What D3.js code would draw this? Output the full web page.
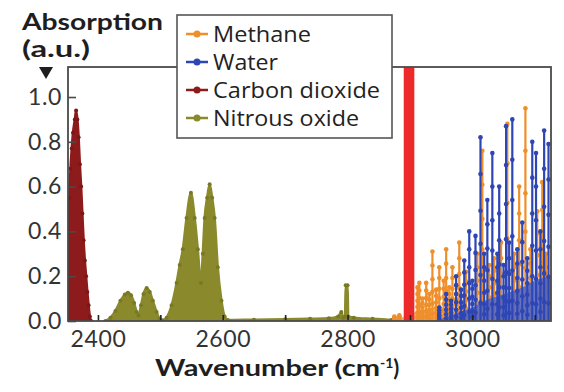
<!DOCTYPE html>
<html><head><meta charset="utf-8">
<script src="https://cdn.jsdelivr.net/npm/d3@7"></script>
<style>html,body{margin:0;padding:0;background:#fff;}svg{display:block;}</style>
</head><body>
<svg id="c" width="564" height="392"></svg>
<script>
// ---- data ----
const seriesNames = ["Methane", "Water", "Carbon dioxide", "Nitrous oxide"];
const seriesColors = ["#ef8f2a", "#2e45b4", "#8e1b1b", "#8a8a2c"];
const yTicks = [0.0, 0.2, 0.4, 0.6, 0.8, 1.0];
const xTicksLabeled = [2400, 2600, 2800, 3000];
const xTicksMinor = [2400, 2500, 2600, 2700, 2800, 2900, 3000, 3100];

const co2Wn = [2352, 2354, 2356, 2358, 2360, 2363, 2365, 2367, 2369, 2371, 2373, 2375, 2377, 2379, 2381, 2383, 2385, 2387, 2389];
const co2Abs = [0.40, 0.55, 0.68, 0.77, 0.84, 0.90, 0.94, 0.90, 0.82, 0.70, 0.60, 0.48, 0.36, 0.27, 0.20, 0.13, 0.07, 0.02, 0.0];

const n2oWn = [2412, 2420, 2428, 2436, 2443, 2448, 2453, 2458, 2462, 2465, 2469, 2473, 2478, 2483, 2488, 2494, 2499, 2504, 2510, 2518, 2526, 2531, 2536, 2542, 2549, 2555, 2560, 2565, 2568, 2571, 2575, 2579, 2583, 2587, 2592, 2598, 2603, 2608, 2650, 2700, 2740, 2770, 2785, 2790, 2793, 2796, 2797, 2800, 2801, 2810, 2840, 2870];
const n2oAbs = [0, 0.015, 0.045, 0.09, 0.118, 0.126, 0.115, 0.08, 0.04, 0.025, 0.07, 0.12, 0.147, 0.13, 0.09, 0.04, 0.01, 0.003, 0.015, 0.07, 0.17, 0.25, 0.32, 0.46, 0.573, 0.46, 0.32, 0.17, 0.30, 0.46, 0.55, 0.61, 0.55, 0.46, 0.24, 0.09, 0.02, 0.004, 0.006, 0.008, 0.01, 0.012, 0.02, 0.04, 0.015, 0.02, 0.16, 0.16, 0.02, 0.015, 0.01, 0.005];

const ch4Wn = [2875, 2883, 2912, 2915, 2920, 2926, 2931, 2936, 2942, 2947, 2954, 2958, 2963, 2968, 2974, 2979, 2990, 3008, 3016, 3027, 3035, 3046, 3056, 3067, 3075, 3085, 3093, 3104, 3112, 3118];
const ch4Abs = [0.02, 0.025, 0.15, 0.17, 0.10, 0.17, 0.12, 0.31, 0.14, 0.24, 0.18, 0.32, 0.15, 0.24, 0.12, 0.35, 0.22, 0.30, 0.76, 0.25, 0.28, 0.35, 0.88, 0.30, 0.60, 0.95, 0.32, 0.49, 0.62, 0.30];
const ch4BaseWn = [2860, 2880, 2900, 2920, 2940, 2960, 2980, 3000, 3020];
const ch4BaseAbs = [0.0, 0.01, 0.03, 0.05, 0.06, 0.06, 0.05, 0.04, 0.02];

const h2oWn = [2947, 2958, 2966, 2974, 2982, 2987, 2995, 3000, 3005, 3013, 3019, 3024, 3032, 3040, 3043, 3050, 3054, 3059, 3064, 3072, 3080, 3088, 3096, 3102, 3109, 3115, 3122];
const h2oAbs = [0.06, 0.12, 0.09, 0.20, 0.14, 0.27, 0.40, 0.18, 0.38, 0.82, 0.30, 0.54, 0.75, 0.30, 0.60, 0.25, 0.87, 0.35, 0.90, 0.32, 0.44, 0.28, 0.80, 0.75, 0.40, 0.85, 0.79];
const h2oBaseWn = [2940, 2960, 2980, 3000, 3020, 3040, 3060, 3080, 3100, 3126];
const h2oBaseAbs = [0.0, 0.02, 0.04, 0.06, 0.09, 0.11, 0.13, 0.15, 0.18, 0.20];

const laserBand = [2890, 2907];

// ---- chart ----
const svg = d3.select("#c");
const x = d3.scaleLinear().domain([2352, 3126]).range([68, 551]);
const y = d3.scaleLinear().domain([0, 1.134]).range([321, 67]);

const plot = svg.append("g");
svg.append("clipPath").attr("id", "pc").append("rect")
  .attr("x", x.range()[0]).attr("y", y.range()[1])
  .attr("width", x.range()[1] - x.range()[0]).attr("height", y.range()[0] - y.range()[1]);
plot.attr("clip-path", "url(#pc)");

function zipPts(w, a) { return w.map((d, i) => [d, a[i]]); }
const area = d3.area().x(d => x(d[0])).y0(y(0)).y1(d => y(d[1])).curve(d3.curveMonotoneX);
const line = d3.line().x(d => x(d[0])).y(d => y(d[1])).curve(d3.curveMonotoneX);

function filledSpectrum(pts, color) {
  plot.append("path").datum(pts).attr("d", area).attr("fill", color);
  plot.append("path").datum(pts).attr("d", line).attr("fill", "none").attr("stroke", color).attr("stroke-width", 2.5);
  plot.selectAll(null).data(pts).enter().append("circle")
    .attr("cx", d => x(d[0])).attr("cy", d => y(d[1])).attr("r", 2)
    .attr("fill", d3.color(color).darker(0.4));
}

filledSpectrum(zipPts(n2oWn, n2oAbs), seriesColors[3]);
filledSpectrum(zipPts(co2Wn, co2Abs), seriesColors[2]);

plot.append("path").datum(zipPts(ch4BaseWn, ch4BaseAbs)).attr("d", area)
  .attr("fill", seriesColors[0]).attr("opacity", 0.7);

function sticks(w, a, color) {
  const pts = zipPts(w, a);
  const g = plot.append("g");
  g.selectAll("line").data(pts).enter().append("line")
    .attr("x1", d => x(d[0])).attr("x2", d => x(d[0]))
    .attr("y1", y(0)).attr("y2", d => y(d[1]))
    .attr("stroke", color).attr("stroke-width", 2.2);
  const fr = [1, 0.8, 0.6, 0.42, 0.25, 0.1];
  pts.forEach(p => {
    g.selectAll(null).data(fr).enter().append("circle")
      .attr("cx", x(p[0])).attr("cy", f => y(p[1] * f)).attr("r", 2.3)
      .attr("fill", color);
  });
}
sticks(ch4Wn, ch4Abs, seriesColors[0]);

plot.append("path").datum(zipPts(h2oBaseWn, h2oBaseAbs)).attr("d", area)
  .attr("fill", "#4a63c8").attr("opacity", 0.85);
sticks(h2oWn, h2oAbs, seriesColors[1]);

plot.append("rect").attr("x", x(laserBand[0])).attr("width", x(laserBand[1]) - x(laserBand[0]))
  .attr("y", y.range()[1]).attr("height", y.range()[0] - y.range()[1]).attr("fill", "#ec2a2c");

// Axes
const axisColor = "#4a4a4a";
const yAx = svg.append("g").attr("transform", `translate(${x.range()[0]},0)`)
  .call(d3.axisLeft(y).tickValues(yTicks).tickFormat(d3.format(".1f")).tickSize(-8).tickPadding(6));
const xAx = svg.append("g").attr("transform", `translate(0,${y.range()[0]})`)
  .call(d3.axisBottom(x).tickValues(xTicksMinor).tickFormat(d => xTicksLabeled.includes(d) ? d : "").tickSize(-6).tickPadding(10));
[yAx, xAx].forEach(a => {
  a.select(".domain").remove();
  a.selectAll(".tick line").attr("stroke", axisColor).attr("stroke-width", 1.6);
  a.selectAll("text").attr("font-family", "Lato, sans-serif").attr("font-size", 23)
    .attr("letter-spacing", 0.6).attr("fill", "#333");
});
xAx.selectAll(".tick line").attr("stroke", "#222");
svg.append("rect").attr("x", x.range()[0]).attr("y", y.range()[1])
  .attr("width", x.range()[1] - x.range()[0]).attr("height", y.range()[0] - y.range()[1])
  .attr("fill", "none").attr("stroke", axisColor).attr("stroke-width", 1.8);

// titles
svg.append("text").attr("x", 22).attr("y", 30).text("Absorption")
  .attr("font-family", "Lato, sans-serif").attr("font-weight", "bold").attr("font-size", 23)
  .attr("textLength", 141).attr("lengthAdjust", "spacingAndGlyphs").attr("fill", "#1e1e1e");
svg.append("text").attr("x", 22).attr("y", 57).text("(a.u.)")
  .attr("font-family", "Lato, sans-serif").attr("font-weight", "bold").attr("font-size", 22)
  .attr("textLength", 68).attr("lengthAdjust", "spacingAndGlyphs").attr("fill", "#1e1e1e");
svg.append("path").attr("d", "M39,67 L53,67 L46,79 Z").attr("fill", "#1e1e1e");

const xt = svg.append("text").attr("x", 155).attr("y", 376)
  .attr("font-family", "Lato, sans-serif").attr("font-weight", "bold").attr("font-size", 22).attr("fill", "#1e1e1e");
xt.append("tspan").text("Wavenumber (cm").attr("textLength", 225).attr("lengthAdjust", "spacingAndGlyphs");
xt.append("tspan").text("-1").attr("font-size", 14).attr("dy", -8);
xt.append("tspan").text(")").attr("dy", 8);

// legend
const legendW = [98, 65, 167, 146];
const lg = svg.append("g");
lg.append("rect").attr("x", 177).attr("y", 15).attr("width", 215).attr("height", 123)
  .attr("fill", "#fff").attr("stroke", "#555").attr("stroke-width", 1.6);
seriesNames.forEach((n, i) => {
  const cy = 34 + i * 28;
  lg.append("line").attr("x1", 186).attr("x2", 208).attr("y1", cy).attr("y2", cy)
    .attr("stroke", seriesColors[i]).attr("stroke-width", 2.5);
  lg.append("circle").attr("cx", 197).attr("cy", cy).attr("r", 3.5).attr("fill", seriesColors[i]);
  lg.append("text").attr("x", 213).attr("y", cy + 8).text(n)
    .attr("font-family", "Open Sans, sans-serif").attr("font-size", 22)
    .attr("textLength", legendW[i]).attr("lengthAdjust", "spacingAndGlyphs").attr("fill", "#222");
});
</script>
</body></html>
